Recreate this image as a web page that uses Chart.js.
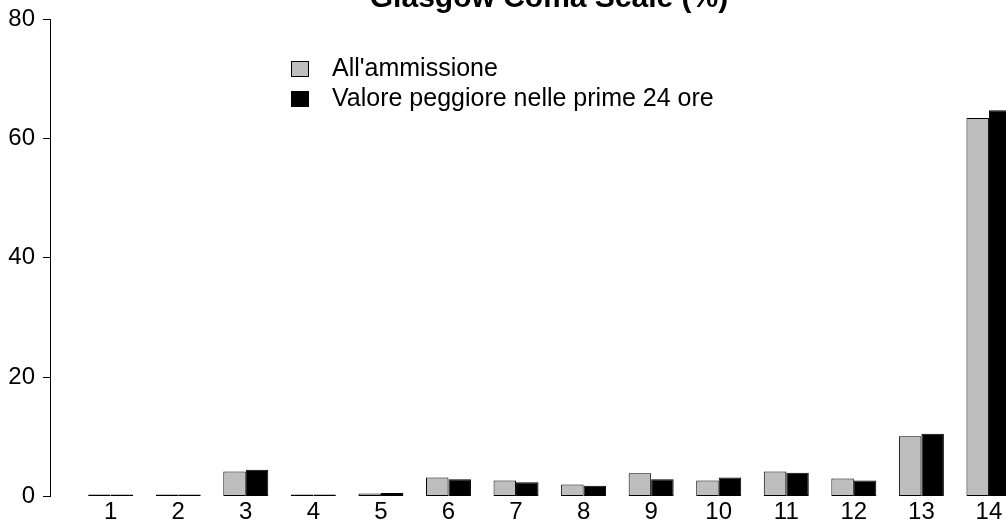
<!DOCTYPE html>
<html>
<head>
<meta charset="utf-8">
<script src="https://cdn.jsdelivr.net/npm/chart.js@4/dist/chart.umd.min.js"></script>
<style>
  html, body { margin: 0; padding: 0; background: #fff; }
  #wrap { position: relative; width: 1006px; height: 531px; overflow: hidden; }
  #gcs { position: absolute; left: 0; top: -19px; }
  .legend { position: absolute; left: 291px; top: 52px; font: 25px "Liberation Sans", Arial, sans-serif; color: #000; }
  .legend div { height: 30px; line-height: 30px; white-space: nowrap; }
  .legend span { display: inline-block; width: 16px; height: 14px; border: 1px solid #000; margin-right: 23px; vertical-align: -1px; }
</style>
</head>
<body>
<div id="wrap">
  <canvas id="gcs" width="1098" height="550"></canvas>
  <div class="legend">
    <div><span style="background:#bebebe"></span>All'ammissione</div>
    <div><span style="background:#000"></span>Valore peggiore nelle prime 24 ore</div>
  </div>
</div>
<script>
// GCS score categories and percentage of patients
var categories = ["1", "2", "3", "4", "5", "6", "7", "8", "9", "10", "11", "12", "13", "14"];
var admission = [0, 0, 4.2, 0.3, 0.5, 3.2, 2.7, 2.0, 3.9, 2.7, 4.2, 3.0, 10.1, 63.4];
var worst24h = [0, 0, 4.5, 0.3, 0.6, 2.9, 2.4, 1.8, 2.9, 3.2, 4.0, 2.7, 10.5, 64.7];
var yTicks = [0, 20, 40, 60, 80];

var fontFamily = "'Liberation Sans', Arial, sans-serif";

// bars sit on a numeric axis so the first group can stand off the y axis
var toPoints = function(values) {
    return values.map(function(v, i) {
        return { x: i + 1, y: v };
    });
};

var ctx = document.getElementById("gcs").getContext("2d");

var gcsChart = new Chart(ctx, {
    type: "bar",
    data: {
        datasets: [{
            label: "All'ammissione",
            data: toPoints(admission),
            backgroundColor: "#bebebe",
            borderColor: "#000",
            borderWidth: 1,
            borderSkipped: false,
            minBarLength: 2
        }, {
            label: "Valore peggiore nelle prime 24 ore",
            data: toPoints(worst24h),
            backgroundColor: "#000",
            borderColor: "#000",
            borderWidth: 1,
            borderSkipped: false,
            minBarLength: 2
        }]
    },
    options: {
        responsive: false,
        animation: false,
        devicePixelRatio: 1,
        layout: { padding: 0 },
        datasets: {
            bar: { barPercentage: 1, categoryPercentage: 0.666 }
        },
        plugins: {
            legend: { display: false },
            tooltip: { enabled: false },
            title: {
                display: true,
                text: "Glasgow Coma Scale (%)",
                color: "#000",
                font: { family: fontFamily, size: 30, weight: "bold", lineHeight: 1.2 },
                padding: { top: 0, bottom: 2 }
            }
        },
        scales: {
            x: {
                type: "linear",
                offset: false,
                min: 0.102,
                max: 15.614,
                grid: { display: false, offset: false },
                border: { display: false },
                afterBuildTicks: function(scale) {
                    scale.ticks = categories.map(function(c, i) {
                        return { value: i + 1 };
                    });
                },
                afterFit: function(scale) {
                    scale.height = 34.5;
                },
                ticks: {
                    autoSkip: false,
                    maxRotation: 0,
                    padding: -7,
                    color: "#000",
                    font: { family: fontFamily, size: 24 },
                    callback: function(value) {
                        return categories[value - 1];
                    }
                }
            },
            y: {
                min: 0,
                max: 80,
                afterBuildTicks: function(scale) {
                    scale.ticks = yTicks.map(function(v) {
                        return { value: v };
                    });
                },
                afterFit: function(scale) {
                    scale.width = 50;
                },
                grid: {
                    drawOnChartArea: false,
                    drawTicks: true,
                    tickLength: 7,
                    color: "#000",
                    lineWidth: 1
                },
                border: { display: true, color: "#000", width: 1 },
                ticks: {
                    padding: 8,
                    color: "#000",
                    font: { family: fontFamily, size: 24 }
                }
            }
        }
    }
});
</script>
</body>
</html>
